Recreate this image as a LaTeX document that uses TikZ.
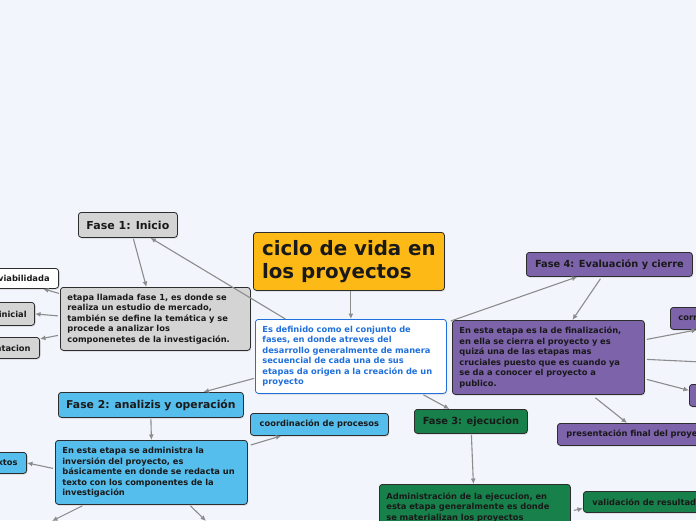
\documentclass[tikz,border=0pt]{standalone}
\usepackage{fontspec}
\setmainfont{DejaVu Sans}
\usetikzlibrary{arrows.meta,calc,shadows}
\definecolor{bg}{RGB}{243,245,253}
\definecolor{orng}{RGB}{253,185,21}
\definecolor{gry}{RGB}{212,212,212}
\definecolor{lblue}{RGB}{86,190,236}
\definecolor{grn}{RGB}{24,128,74}
\definecolor{purp}{RGB}{124,99,170}
\definecolor{cblue}{RGB}{32,112,220}
\definecolor{edgec}{RGB}{140,140,140}
\definecolor{bord}{RGB}{45,45,45}
\tikzset{
 box/.style={draw=bord, line width=0.8pt, rounded corners=3pt,
   drop shadow={shadow xshift=0.8pt,shadow yshift=-1.2pt,opacity=0.25},
   font=\fontsize{8.3}{10.5}\selectfont\bfseries, inner ysep=2pt, text=black!90},
 desc/.style={box, anchor=north west, align=left, inner xsep=7pt},
 phase/.style={box, anchor=north west, align=center, inner xsep=2pt},
 stub/.style={box, anchor=north east, inner xsep=9pt},
 edge/.style={draw=edgec, line width=1.1pt, -{Latex[length=5.5pt,width=5pt]}},
}
\begin{document}
\begin{tikzpicture}[x=1pt,y=-1pt]
\useasboundingbox (0,0) rectangle (696,520);
\fill[bg] (0,0) rectangle (696,520);
\clip (0,0) rectangle (696,520);

% centre
\node[box, fill=orng, anchor=north west, minimum width=191pt, minimum height=58pt, align=left,
  font=\fontsize{19.8}{23.5}\selectfont\bfseries, inner xsep=8pt] (title) at (253,232)
  {ciclo de vida en\\los proyectos};
\node[desc, fill=white, draw=cblue, text=cblue, minimum width=191pt, minimum height=74pt, text width=177pt] (central) at (255,319)
  {Es definido como el conjunto de\\fases, en donde atreves del\\desarrollo generalmente  de manera\\secuencial de cada una de sus\\etapas da origen a la creación de un\\proyecto};

% fase 1
\node[phase, fill=gry, minimum width=99pt, minimum height=25pt, font=\fontsize{11}{13}\selectfont\bfseries] (fase1) at (78,212) {Fase 1: Inicio};
\node[desc, fill=gry, minimum width=190pt, minimum height=63pt, text width=176pt] (desc1) at (60,287)
  {etapa llamada fase 1, es donde se\\realiza un estudio de mercado,\\también se define la temática y se\\procede a analizar los\\componenetes de la investigación.};
\node[stub, fill=white, minimum height=20pt] (viab) at (59,268) {viabilidada};
\node[stub, fill=gry, minimum height=23pt, inner xsep=8pt] (inicial) at (35,302) {inicial};
\node[stub, fill=gry, minimum height=21pt] (tacion) at (40,337) {ntacion};

% fase 2
\node[phase, fill=lblue, minimum width=185pt, minimum height=25pt, font=\fontsize{10.8}{13}\selectfont\bfseries] (fase2) at (58,392) {Fase 2: analizis y operación};
\node[desc, fill=lblue, minimum width=192pt, minimum height=64pt, text width=178pt] (desc2) at (55,440)
  {En esta etapa se administra la\\inversión del proyecto, es\\básicamente en donde se redacta un\\texto con los componentes de la\\investigación};
\node[stub, fill=lblue, minimum height=21pt] (xtos) at (27,452) {xtos};
\node[phase, fill=lblue, minimum width=138pt, minimum height=22pt] (coord) at (250,413) {coordinación de procesos};

% fase 3
\node[phase, fill=grn, minimum width=113pt, minimum height=24pt, font=\fontsize{9.8}{12}\selectfont\bfseries] (fase3) at (414,409) {Fase 3: ejecucion};
\node[desc, fill=grn, minimum width=191pt, minimum height=46pt, text width=177pt] (desc3) at (379,484)
  {Administración de la ejecucion, en\\esta etapa generalmente es donde\\se materializan los proyectos};
\node[desc, fill=grn, minimum height=21pt, text width=130pt, inner xsep=9pt] (valid) at (583,491) {validación de resultad};

% fase 4
\node[phase, fill=purp, minimum width=166pt, minimum height=24pt, font=\fontsize{9.8}{12}\selectfont\bfseries] (fase4) at (526,252) {Fase 4: Evaluación y cierre};
\node[desc, fill=purp, minimum width=192pt, minimum height=74pt, text width=178pt] (desc4) at (452,320)
  {En esta etapa es la de finalización,\\en ella se cierra el proyecto y es\\quizá una de las etapas mas\\cruciales puesto que es cuando ya\\se da a conocer el proyecto a\\publico.};
\node[desc, fill=purp, minimum height=22pt, text width=60pt, inner xsep=8pt] (corr) at (670,307) {corr};
\node[desc, fill=purp, minimum height=22pt, minimum width=40pt] (small) at (689,384) {};
\node[desc, fill=purp, minimum height=22pt, text width=160pt, inner xsep=9pt] (pres) at (557,423) {presentación final del proye};

\coordinate (bl) at (52,521);
\coordinate (br) at (206,521);
\coordinate (offr) at (702,362);

% connectors
\draw[edge] ($(central.north)+(-65.5,0)$) -- ($(fase1.south)+(22.5,0)$);
\draw[edge] (title.south -| central.north) -- (central.north);
\draw[edge] ($(fase1.south)+(5.5,1)$) -- ($(desc1.north)+(-9,0)$);
\draw[edge] ($(desc1.west)+(-1,-25.5)$) -- ($(viab.south east)+(-16,0)$);
\draw[edge] ($(desc1.west)+(-2,-3)$) -- (inicial.east);
\draw[edge] ($(desc1.west)+(-2,16.5)$) -- ($(tacion.east)+(0,-9)$);
\draw[edge] ($(central.west)+(-1,22)$) -- ($(fase2.north)+(52.5,0)$);
\draw[edge] ($(fase2.south)+(0,1)$) -- (desc2.north);
\draw[edge] ($(desc2.west)+(-2,-4)$) -- (xtos.east);
\draw[edge] ($(desc2.north east)+(3,5)$) -- ($(coord.south)+(-38,0)$);
\draw[edge] ($(desc2.south)+(-69,1)$) -- (bl);
\draw[edge] ($(desc2.south)+(39,1)$) -- (br);
\draw[edge] ($(central.south)+(72.5,1)$) -- ($(fase3.north)+(-21.5,0)$);
\draw[edge] ($(fase3.south)+(0.5,1)$) -- ($(desc3.north)+(-1.5,0)$);
\draw[edge] ($(desc3.east)+(3,3)$) -- ($(valid.west)+(0,6.5)$);
\draw[edge] ($(central.north east)+(4,2)$) -- ($(fase4.south)+(-32,0)$);
\draw[edge] ($(fase4.south)+(-9,2)$) -- ($(desc4.north)+(24,0)$);
\draw[edge] ($(desc4.east)+(2,-18)$) -- ($(corr.south west)+(27,0)$);
\draw[edge] ($(desc4.east)+(2,2)$) -- (offr);
\draw[edge] ($(desc4.east)+(2,22)$) -- ($(small.west)+(0,-5)$);
\draw[edge] ($(desc4.south)+(47,3)$) -- ($(pres.north west)+(70,0)$);
\end{tikzpicture}
\end{document}
